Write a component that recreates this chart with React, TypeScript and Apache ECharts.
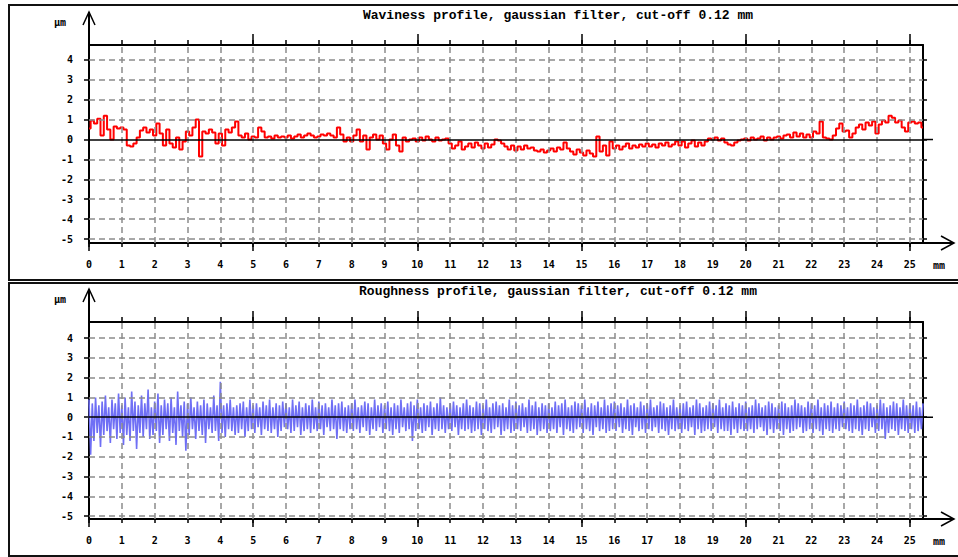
import React, { useEffect, useRef } from "react";
import * as echarts from "echarts";

// ---------- data ----------
const X_MAX = 25.4;
const X_TICKS = [0, 1, 2, 3, 4, 5, 6, 7, 8, 9, 10, 11, 12, 13, 14, 15, 16, 17, 18, 19, 20, 21, 22, 23, 24, 25];
const X_MAJOR = [0, 5, 10, 15, 20, 25];
const Y_TICKS = [-5, -4, -3, -2, -1, 0, 1, 2, 3, 4];
const TITLES = [
  "Waviness profile, gaussian filter, cut-off 0.12 mm",
  "Roughness profile, gaussian filter, cut-off 0.12 mm",
];
const UNIT_Y = "µm";
const UNIT_X = "mm";

// waviness profile, one value every 0.1 mm (µm)
const WAVINESS_STEP = 0.1;
const waviness = [
  0.55, 0.95, 0.8, 1.05, 0.2, 1.2, 0.5, 0.0, 0.65, 0.55,
  0.6, 0.5, -0.3, -0.35, -0.2, 0.1, 0.45, 0.6, 0.35, 0.5,
  0.2, 0.8, 0.3, -0.3, 0.5, -0.2, -0.4, 0.1, -0.5, -0.1,
  0.4, 0.2, 0.6, 1.0, -0.85, 0.4, 0.3, 0.5, 0.35, -0.2,
  0.3, -0.3, 0.5, 0.35, 0.6, 0.9, 0.2, 0.1, 0.3, 0.0,
  0.15, 0.1, 0.6, 0.4, 0.1, 0.15, 0.05, 0.2, 0.1, 0.15,
  0.1, 0.2, 0.05, 0.15, 0.25, 0.1, 0.2, 0.3, 0.2, 0.1,
  0.15, 0.25, 0.2, 0.3, 0.2, 0.1, 0.6, 0.25, -0.1, 0.1,
  -0.1, 0.2, 0.5, -0.1, 0.2, -0.5, 0.1, 0.25, 0.0, 0.2,
  -0.2, -0.5, 0.0, 0.25, -0.3, -0.6, 0.1, -0.1, 0.0, 0.05,
  -0.1, 0.1, -0.05, 0.15, 0.0, -0.1, 0.1, -0.05, 0.0, 0.05,
  -0.2, -0.45, -0.3, -0.1, -0.5, -0.35, -0.2, -0.4, -0.15, -0.3,
  -0.45, -0.2, -0.4, -0.25, 0.0, -0.05, -0.2, -0.35, -0.5, -0.3,
  -0.55, -0.35, -0.5, -0.3, -0.45, -0.4, -0.55, -0.6, -0.5, -0.65,
  -0.55, -0.45, -0.6, -0.4, -0.5, -0.15, -0.45, -0.6, -0.75, -0.5,
  -0.65, -0.8, -0.55, -0.7, -0.85, 0.15, -0.6, -0.3, -0.8, -0.1,
  -0.45, -0.3, -0.5, -0.35, -0.2, -0.45, -0.3, -0.4, -0.25, -0.35,
  -0.2, -0.35, -0.25, -0.4, -0.2, -0.3, -0.15, -0.35, -0.25, -0.1,
  -0.3, -0.1, -0.4, -0.2, -0.05, -0.35, -0.15, -0.3, -0.1, 0.05,
  0.0, 0.1, -0.05, 0.05, -0.15, -0.25, -0.3, -0.15, -0.05, 0.0,
  0.05, -0.05, 0.1, 0.0, 0.05, 0.15, -0.05, 0.1, 0.0, 0.1,
  0.15, 0.05, 0.2, 0.25, 0.1, 0.35, 0.15, 0.3, 0.1, 0.25,
  0.1, 0.4, 0.3, 0.9, 0.1, 0.05, 0.0, 0.2, 0.55, 0.8,
  0.4, 0.45, 0.1, 0.3, 0.6, 0.75, 0.5, 0.85, 0.7, 0.9,
  0.3, 0.75, 0.95, 0.85, 1.2, 1.1, 0.85, 0.95, 0.6, 0.4,
  0.85, 0.9, 0.8, 0.85, 0.6,
];

// roughness profile, one value every 0.05 mm (µm)
const ROUGHNESS_STEP = 0.05;
const roughness = [
  0.9, -1.9, 0.7, -1.2, 1.0, -0.8, 0.6, -1.5, 0.8, -0.9, 1.1, -0.7, 0.5, -1.3, 0.9, -0.6, 0.7, -1.1, 1.2, -0.8,
  0.6, -1.4, 1.0, -0.9, 0.5, -1.2, 1.3, -0.7, 0.8, -1.6, 0.6, -0.8, 1.1, -1.0, 0.7, -0.6, 1.4, -1.1, 0.5, -0.9,
  0.8, -0.7, 1.2, -1.3, 0.6, -0.9, 0.9, -0.6, 0.7, -1.2, 1.0, -0.8, 0.5, -1.4, 1.3, -0.7, 0.6, -1.0, 0.8, -1.7,
  0.7, -0.9, 1.0, -0.6, 0.5, -1.1, 0.8, -0.7, 0.6, -0.9, 0.9, -1.3, 0.7, -0.6, 0.5, -0.8, 1.1, -0.7, 0.6, -1.2,
  1.8, -0.8, 0.6, -1.0, 0.7, -0.6, 0.9, -0.7, 0.5, -0.9, 0.6, -0.8, 0.7, -0.6, 0.8, -1.0, 0.5, -0.7, 0.9, -0.6,
  0.6, -0.8, 0.7, -0.5, 0.5, -0.9, 0.8, -0.6, 0.6, -0.7, 0.9, -0.8, 0.5, -0.6, 0.7, -1.0, 0.6, -0.7, 0.8, -0.5,
  0.7, -0.6, 0.5, -0.8, 0.9, -0.7, 0.6, -0.5, 0.8, -0.9, 0.5, -0.7, 0.7, -0.6, 0.6, -0.8, 0.9, -0.6, 0.5, -0.7,
  0.8, -0.6, 0.6, -0.9, 0.7, -0.5, 0.5, -0.7, 0.9, -0.6, 0.6, -1.1, 0.7, -0.6, 0.8, -0.7, 0.5, -0.8, 0.6, -0.6,
  0.7, -0.7, 0.9, -0.6, 0.5, -0.8, 0.6, -0.5, 0.8, -0.7, 0.7, -0.9, 0.5, -0.6, 0.9, -0.7, 0.6, -0.5, 0.7, -0.8,
  0.6, -0.6, 0.8, -0.7, 0.5, -0.9, 0.7, -0.6, 0.6, -0.8, 0.9, -0.5, 0.5, -0.7, 0.7, -0.6, 0.8, -1.2, 0.6, -0.7,
  0.9, -0.6, 0.5, -0.8, 0.7, -0.7, 0.6, -0.5, 0.8, -0.9, 0.5, -0.6, 0.7, -0.7, 1.0, -0.6, 0.6, -0.8, 0.5, -0.6,
  0.7, -0.7, 0.8, -0.5, 0.6, -0.9, 0.5, -0.6, 0.7, -0.7, 0.9, -0.6, 0.6, -0.8, 0.5, -0.7, 0.8, -0.6, 0.7, -0.9,
  0.6, -0.6, 0.9, -0.7, 0.5, -0.8, 0.7, -0.6, 0.8, -0.5, 0.6, -0.9, 0.7, -0.7, 0.5, -0.6, 0.9, -0.8, 0.6, -0.7,
  0.8, -0.6, 0.6, -0.7, 0.7, -0.5, 0.5, -0.8, 0.9, -0.7, 0.6, -0.6, 0.8, -0.9, 0.5, -0.7, 0.7, -0.6, 0.6, -0.8,
  0.7, -0.7, 0.5, -0.6, 0.8, -0.8, 0.6, -0.5, 0.7, -0.9, 0.9, -0.6, 0.5, -0.7, 0.6, -0.8, 0.8, -0.6, 0.7, -0.5,
  0.6, -0.8, 0.9, -0.6, 0.5, -0.7, 0.7, -0.9, 0.6, -0.5, 0.8, -0.7, 0.5, -0.6, 0.9, -0.8, 0.6, -0.7, 0.7, -0.6,
  0.8, -0.7, 0.6, -0.5, 0.7, -0.8, 0.5, -0.6, 0.9, -0.7, 0.6, -0.9, 0.7, -0.5, 0.5, -0.7, 0.8, -0.6, 0.6, -0.8,
  0.7, -0.6, 0.9, -0.7, 0.5, -0.5, 0.6, -0.8, 0.8, -0.6, 0.7, -0.7, 0.5, -0.9, 0.6, -0.6, 0.9, -0.7, 0.5, -0.6,
  0.6, -0.8, 0.7, -0.6, 0.8, -0.7, 0.5, -0.5, 0.6, -0.9, 0.9, -0.6, 0.7, -0.8, 0.5, -0.7, 0.6, -0.6, 0.8, -0.7,
  0.7, -0.5, 0.6, -0.8, 0.9, -0.6, 0.5, -0.7, 0.7, -0.7, 0.6, -0.9, 0.8, -0.6, 0.5, -0.8, 0.7, -0.6, 0.6, -0.7,
  0.8, -0.7, 0.5, -0.6, 0.6, -0.8, 0.9, -0.6, 0.7, -0.5, 0.5, -0.7, 0.6, -0.9, 0.8, -0.6, 0.7, -0.8, 0.5, -0.6,
  0.6, -0.7, 0.8, -0.9, 0.7, -0.6, 0.5, -0.8, 0.6, -0.7, 0.9, -0.6, 0.7, -0.5, 0.6, -0.8, 0.5, -0.7, 0.8, -0.6,
  0.7, -0.8, 0.6, -0.6, 0.9, -0.7, 0.5, -0.9, 0.7, -0.6, 0.6, -0.7, 0.8, -0.8, 0.5, -0.6, 0.7, -0.7, 0.6, -0.5,
  0.8, -0.6, 0.5, -0.7, 0.7, -0.8, 0.6, -0.6, 0.9, -0.7, 0.5, -0.9, 0.6, -0.6, 0.8, -0.7, 0.7, -0.5, 0.5, -0.8,
  0.6, -0.7, 0.9, -0.6, 0.7, -1.1, 0.5, -0.8, 0.6, -0.6, 0.8, -0.7, 0.7, -0.9, 0.5, -0.6, 0.9, -0.7, 0.6, -0.8,
  0.7, -0.6, 0.6, -0.8, 0.8, -0.7, 0.5, -0.6, 0.7,
];

// ---------- layout & style ----------
const LEFT = 89;
const PLOT_W = 834;
const PANELS = [
  { top: 45, height: 198, yMin: -5.2, yMax: 4.75, titleY: 15, boxTop: 5, boxH: 275 },
  { top: 322, height: 197, yMin: -5.15, yMax: 4.82, titleY: 291, boxTop: 283, boxH: 273 },
];
const LABEL_FONT = "DejaVu Sans Mono";
const TITLE_FONT = "Liberation Mono";
const GRID_COLOR = "#8c8c8c";

function toPairs(values: number[], step: number) {
  return values.map((v, i) => [+(i * step).toFixed(3), v]);
}

function buildOption() {
  const grid: any[] = [];
  const xAxis: any[] = [];
  const yAxis: any[] = [];
  const series: any[] = [];
  const graphic: any[] = [];
  const black = { color: "#000", width: 2 };
  const tickStyle = { color: "#000", width: 1.5 };
  const labelStyle = {
    fontFamily: LABEL_FONT,
    fontSize: 10,
    fontWeight: "bold",
    color: "#000",
  };

  PANELS.forEach((p, pi) => {
    grid.push({
      left: LEFT,
      top: p.top,
      width: PLOT_W,
      height: p.height,
      containLabel: false,
      outerBoundsMode: "none",
    });
    const xBase = {
      type: "value",
      gridIndex: pi,
      min: 0,
      max: X_MAX,
      splitLine: { show: false },
    };
    xAxis.push({
      ...xBase,
      position: "bottom",
      axisLine: { show: true, onZero: false, lineStyle: black },
      axisTick: { show: true, customValues: X_TICKS, length: 4, lineStyle: tickStyle },
      axisLabel: { show: true, customValues: X_TICKS, margin: 16, ...labelStyle },
    });
    xAxis.push({
      ...xBase,
      position: "bottom",
      axisLine: { show: false, onZero: false },
      axisTick: { show: true, customValues: X_MAJOR, length: 8, lineStyle: tickStyle },
      axisLabel: { show: false },
    });
    xAxis.push({
      ...xBase,
      position: "top",
      axisLine: { show: true, onZero: false, lineStyle: black },
      axisTick: { show: true, customValues: X_TICKS, length: 5, lineStyle: tickStyle },
      axisLabel: { show: false },
    });
    xAxis.push({
      ...xBase,
      position: "top",
      axisLine: { show: false, onZero: false },
      axisTick: { show: true, customValues: X_MAJOR, length: 11, lineStyle: tickStyle },
      axisLabel: { show: false },
    });
    const yBase = {
      type: "value",
      gridIndex: pi,
      min: p.yMin,
      max: p.yMax,
      splitLine: { show: false },
    };
    yAxis.push({
      ...yBase,
      position: "left",
      axisLine: { show: true, onZero: false, lineStyle: black },
      axisTick: { show: true, customValues: Y_TICKS, length: 5, lineStyle: tickStyle },
      axisLabel: { show: true, customValues: Y_TICKS, margin: 16, ...labelStyle },
    });
    yAxis.push({
      ...yBase,
      position: "right",
      axisLine: { show: true, onZero: false, lineStyle: black },
      axisTick: { show: true, customValues: Y_TICKS, length: 4, lineStyle: tickStyle },
      axisLabel: { show: false },
    });

    const xi = pi * 4;
    const yi = pi * 2;
    const gridLines: any[] = [];
    X_TICKS.filter((v) => v > 0).forEach((v) => gridLines.push({ xAxis: v }));
    Y_TICKS.filter((v) => v !== 0).forEach((v) => gridLines.push({ yAxis: v }));
    gridLines.push({ yAxis: 0, lineStyle: { type: "solid", color: "#000", width: 1.5 } });

    series.push({
      type: "line",
      xAxisIndex: xi,
      yAxisIndex: yi,
      data: [],
      z: 1,
      silent: true,
      markLine: {
        silent: true,
        symbol: ["none", "none"],
        label: { show: false },
        emphasis: { disabled: true },
        animation: false,
        lineStyle: { type: [6, 4], color: GRID_COLOR, width: 1.5 },
        data: gridLines,
      },
    });

    if (pi === 0) {
      series.push({
        type: "line",
        name: "waviness",
        xAxisIndex: xi,
        yAxisIndex: yi,
        data: toPairs(waviness, WAVINESS_STEP),
        showSymbol: false,
        symbol: "none",
        step: "middle",
        z: 3,
        lineStyle: { color: "#ff0000", width: 2 },
      });
    } else {
      series.push({
        type: "line",
        name: "roughness",
        xAxisIndex: xi,
        yAxisIndex: yi,
        data: toPairs(roughness, ROUGHNESS_STEP),
        showSymbol: false,
        symbol: "none",
        z: 3,
        lineStyle: { color: "#6f6ff5", width: 1.6 },
      });
    }

    const bottom = p.top + p.height;
    const right = LEFT + PLOT_W;
    const y0 = p.top + (p.yMax / (p.yMax - p.yMin)) * p.height;
    const tip = p.top - 33;
    const lineStyle = { stroke: "#000", lineWidth: 1.5, fill: "none" };
    const textStyle = (text: string, family: string, size: number) => ({
      text,
      fontFamily: family,
      fontSize: size,
      fontWeight: "bold",
      fill: "#000",
      align: "center",
      verticalAlign: "middle",
      textAlign: "center",
      textVerticalAlign: "middle",
    });
    graphic.push(
      {
        type: "rect",
        silent: true,
        shape: { x: 9, y: p.boxTop, width: 960, height: p.boxH },
        style: { fill: "none", stroke: "#111", lineWidth: 2 },
      },
      { type: "text", silent: true, x: 558, y: p.titleY, style: textStyle(TITLES[pi], TITLE_FONT, 13) },
      { type: "text", silent: true, x: 60, y: tip + 10, style: textStyle(UNIT_Y, LABEL_FONT, 10) },
      { type: "text", silent: true, x: 939, y: bottom + 22, style: textStyle(UNIT_X, LABEL_FONT, 10) },
      {
        type: "line",
        silent: true,
        shape: { x1: LEFT, y1: p.top, x2: LEFT, y2: tip },
        style: { stroke: "#000", lineWidth: 2 },
      },
      {
        type: "polyline",
        silent: true,
        shape: { points: [[LEFT - 6, tip + 13], [LEFT, tip], [LEFT + 6, tip + 13]] },
        style: lineStyle,
      },
      {
        type: "line",
        silent: true,
        shape: { x1: right, y1: bottom, x2: right + 31, y2: bottom },
        style: { stroke: "#000", lineWidth: 2 },
      },
      {
        type: "polyline",
        silent: true,
        shape: { points: [[right + 18, bottom - 7], [right + 31, bottom], [right + 18, bottom + 7]] },
        style: lineStyle,
      },
      {
        type: "line",
        silent: true,
        shape: { x1: right, y1: y0, x2: right + 10, y2: y0 },
        style: { stroke: "#000", lineWidth: 1.5 },
      }
    );
  });

  return {
    animation: false,
    backgroundColor: "#fff",
    grid,
    xAxis,
    yAxis,
    series,
    graphic,
  };
}

export default function App() {
  const ref = useRef<HTMLDivElement>(null);
  useEffect(() => {
    if (!ref.current) return;
    const chart = echarts.init(ref.current, undefined, { renderer: "svg" });
    chart.setOption(buildOption() as any);
    return () => chart.dispose();
  }, []);
  return (
    <div
      ref={ref}
      style={{ position: "fixed", left: 0, top: 0, width: 958, height: 557, background: "#fff" }}
    />
  );
}
